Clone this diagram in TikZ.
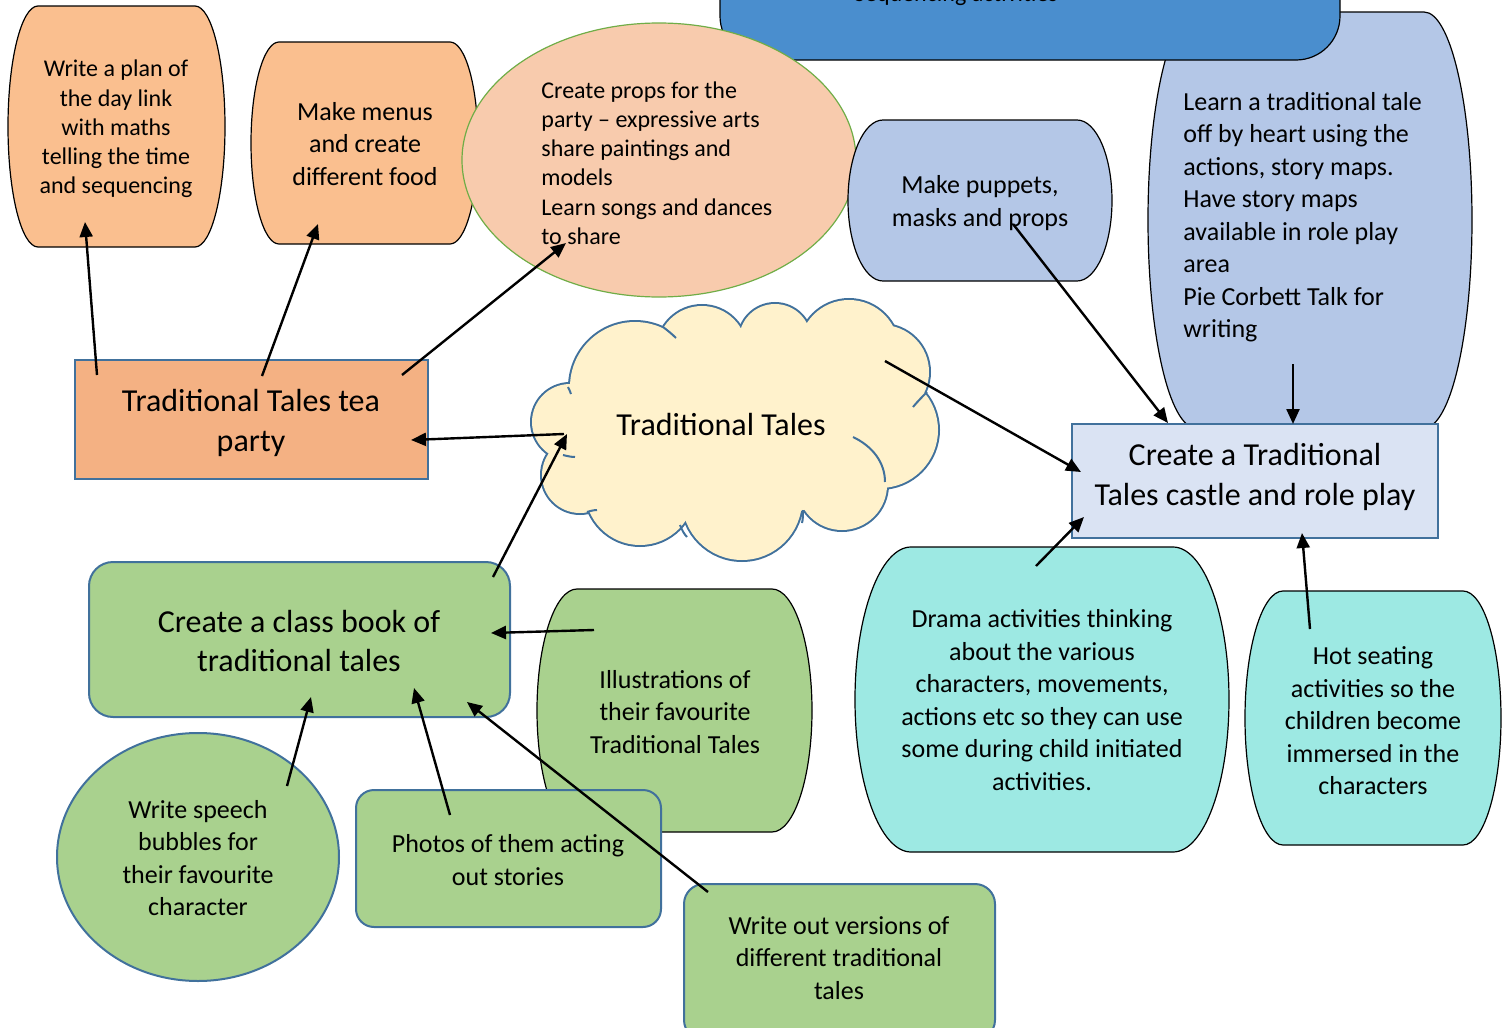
\documentclass[tikz,border=0pt]{standalone}
\usepackage{fontspec}
\setmainfont{Carlito}
\usetikzlibrary{arrows.meta,shapes.geometric}
\definecolor{orangeA}{HTML}{FABF8F}
\definecolor{peach}{HTML}{F8CBAD}
\definecolor{teaor}{HTML}{F4B183}
\definecolor{bluetop}{HTML}{4A8ECE}
\definecolor{lav}{HTML}{B4C7E7}
\definecolor{castlef}{HTML}{DAE3F3}
\definecolor{cloudf}{HTML}{FFF2CC}
\definecolor{bord}{HTML}{41719C}
\definecolor{greenf}{HTML}{A9D18E}
\definecolor{cyanf}{HTML}{9DE9E3}
\definecolor{ellbord}{HTML}{70AD47}
\newcommand{\barrelshape}[6]{%
  \path[#1] ({#2+#6},#3) -- ({#4-#6},#3)
    arc[start angle=-90,end angle=90,x radius=#6,y radius={(#5-#3)/2}]
    -- ({#2+#6},#5)
    arc[start angle=90,end angle=270,x radius=#6,y radius={(#5-#3)/2}]
    -- cycle;}
\begin{document}
\begin{tikzpicture}[x=0.5pt,y=-0.5pt,
  thinb/.style={draw=black,line width=0.6pt},
  blueb/.style={draw=bord,line width=1pt},
  tsm/.style={font=\fontsize{12}{14.6}\selectfont,text=black},
  tmd/.style={font=\fontsize{13}{16.25}\selectfont,text=black},
  tlg/.style={font=\fontsize{16}{19.75}\selectfont,text=black},
  inarc/.style={draw=bord,line width=1pt},
  arr/.style={draw=black,line width=1.2pt,-{Triangle[length=7.5pt,width=6.5pt]}}]
\useasboundingbox (0,0) rectangle (1512,1028);
\clip (0,0) rectangle (1512,1028);

% Learn (behind top box)
\barrelshape{thinb,fill=lav}{1148}{12}{1472}{428}{48}
% top blue box
\draw[thinb,fill=bluetop,rounded corners=22pt] (720,-80) rectangle (1340,60);
\node[tsm,anchor=base] (seq) at (956,2) {Sequencing activities};

% plan and menus
\barrelshape{thinb,fill=orangeA}{8}{6}{225}{247}{30}
\node[tsm,align=center] (plan) at (116,129) {Write a plan of\\the day link\\with maths\\telling the time\\and sequencing};
\barrelshape{thinb,fill=orangeA}{251}{42}{478}{244}{28}
\node[tmd,align=center] (menus) at (365,144) {Make menus\\and create\\different food};

% props ellipse
\node[ellipse,draw=ellbord,line width=0.6pt,fill=peach,minimum width=197pt,minimum height=137pt,inner sep=0pt] (propsE) at (659,160) {};
\node[tsm,align=left,anchor=west,inner sep=0pt] (props) at (541,163) {Create props for the\\party – expressive arts\\share paintings and\\models\\Learn songs and dances\\to share};

% puppets
\barrelshape{thinb,fill=lav}{848}{120}{1112}{281}{35}
\node[tmd,align=center] (puppets) at (980,203) {Make puppets,\\masks and props};
\node[tmd,align=left,anchor=west,inner sep=0pt] (learn) at (1183,217) {Learn a traditional tale\\off by heart using the\\actions, story maps.\\Have story maps\\available in role play\\area\\Pie Corbett Talk for\\writing};

% tea party
\node[blueb,fill=teaor,minimum width=176.5pt,minimum height=59.5pt,inner sep=0pt] (teaB) at (251.5,419.5) {};
\node[tlg,align=center] (tea) at (251,423) {Traditional Tales tea\\party};

% cloud: union of puffs
\def\puffs{635/387/65, 702/351/45, 775/340/36, 849/350/50, 882/372/47, 880/430/58, 842/485/45, 742/500/60, 640/490/55, 580/475/38, 570/422/38}
\foreach \cx/\cy/\r in \puffs {\draw[draw=bord,line width=2pt] (\cx,\cy) circle[radius=\r];}
\foreach \cx/\cy/\r in \puffs {\fill[cloudf] (\cx,\cy) circle[radius=\r];}
\fill[cloudf] (732,432) ellipse[x radius=155,y radius=88];
\coordinate (cloudS) at (735,431);
\draw[inarc] (853,437) .. controls (872,446) and (885,462) .. (885,482);
\draw[inarc] (913,407) .. controls (918,401) and (923,396) .. (927,392);
\draw[inarc] (663,327) .. controls (667,330) and (672,334) .. (676,338);
\draw[inarc] (568,387) .. controls (569,389) and (570,391) .. (571,394);
\draw[inarc] (680,525) .. controls (682,530) and (684,534) .. (687,537);
\draw[inarc] (563,455) .. controls (567,456) and (571,457) .. (575,457);
\draw[inarc] (803,510) .. controls (803,515) and (803,519) .. (802,523);
\draw[inarc] (587,512) .. controls (590,511) and (594,510) .. (597,510);
\node[tlg] (cloud) at (721,425) {Traditional Tales};

% castle
\node[blueb,fill=castlef,minimum width=183pt,minimum height=57pt,inner sep=0pt] (castleB) at (1255,481) {};
\node[tlg,align=center] (castle) at (1255,477) {Create a Traditional\\Tales castle and role play};

% green group
\node[blueb,fill=greenf,rounded corners=12pt,minimum width=210.5pt,minimum height=77.5pt,inner sep=0pt] (bookB) at (299.5,639.5) {};
\node[tlg,align=center] (book) at (299,641) {Create a class book of\\traditional tales};
\barrelshape{thinb,fill=greenf}{537}{589}{812}{832}{40}
\node[tmd,align=center] (illus) at (675,712) {Illustrations of\\their favourite\\Traditional Tales};
\node[blueb,fill=greenf,rounded corners=9pt,minimum width=152.5pt,minimum height=68.5pt,inner sep=0pt] (photosB) at (508.5,858.5) {};
\node[tmd,align=center] (photos) at (508,860) {Photos of them acting\\out stories};
\node[ellipse,blueb,fill=greenf,minimum width=141pt,minimum height=124pt,inner sep=0pt] (speechE) at (198,857) {};
\node[tmd,align=center] (speech) at (198,858) {Write speech\\bubbles for\\their favourite\\character};
\node[blueb,fill=greenf,rounded corners=10pt,minimum width=155.5pt,minimum height=78pt,inner sep=0pt] (writeB) at (839.5,962) {};
\node[tmd,align=center] (writeout) at (839,958) {Write out versions of\\different traditional\\tales};

% cyan group
\barrelshape{thinb,fill=cyanf}{855}{547}{1229}{852}{56}
\node[tmd,align=center] (drama) at (1042,700) {Drama activities thinking\\about the various\\characters, movements,\\actions etc so they can use\\some during child initiated\\activities.};
\barrelshape{thinb,fill=cyanf}{1245}{591}{1501}{845}{38}
\node[tmd,align=center] (hot) at (1373,721) {Hot seating\\activities so the\\children become\\immersed in the\\characters};

% arrow end points
\coordinate (a1t) at (97,375);   \coordinate (a1h) at (85,222);
\coordinate (a2t) at (262,376);  \coordinate (a2h) at (318,224);
\coordinate (a3t) at (402,375);  \coordinate (a3h) at (566,243);
\coordinate (a4t) at (564,434);  \coordinate (a4h) at (411,440);
\coordinate (a5t) at (493,577);  \coordinate (a5h) at (567,434);
\coordinate (a6t) at (885,361);  \coordinate (a6h) at (1081,472);
\coordinate (a7t) at (1013,224); \coordinate (a7h) at (1168,423);
\coordinate (a8t) at (1293,364); \coordinate (a8h) at (1293,424);
\coordinate (a9t) at (1036,566); \coordinate (a9h) at (1084,517);
\coordinate (a10t) at (1310,629); \coordinate (a10h) at (1302,533);
\coordinate (a11t) at (594,630); \coordinate (a11h) at (491,633);
\coordinate (a12t) at (287,786); \coordinate (a12h) at (311,697);
\coordinate (a13t) at (450,815); \coordinate (a13h) at (414,688);
\coordinate (a14t) at (708,892); \coordinate (a14h) at (467,702);

\foreach \i in {1,...,14} {\draw[arr] (a\i t) -- (a\i h);}
\end{tikzpicture}
\end{document}
